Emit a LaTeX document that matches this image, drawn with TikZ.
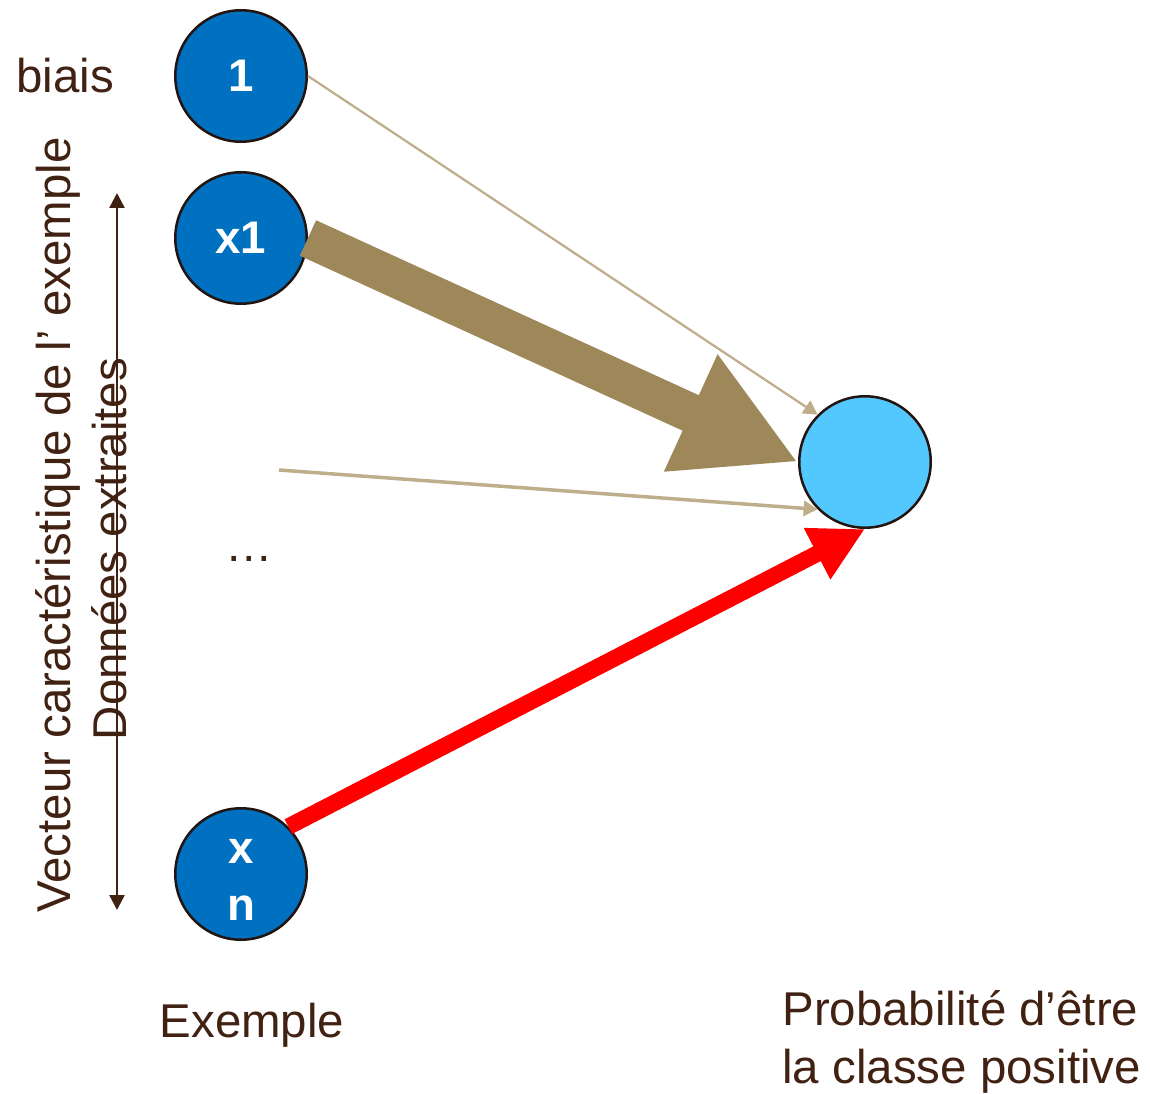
\documentclass[tikz,border=0pt]{standalone}
\usepackage{fontspec}
\setmainfont{Liberation Sans}
\usetikzlibrary{arrows.meta}
\definecolor{mblue}{RGB}{0,112,192}
\definecolor{lblue}{RGB}{83,200,255}
\definecolor{dbrown}{RGB}{64,33,18}
\definecolor{rim}{RGB}{35,20,15}
\definecolor{wbrown}{RGB}{158,135,89}
\definecolor{wtan}{RGB}{191,174,140}
\tikzset{unit/.style = {circle, draw = rim, line width = 0.05cm, fill = mblue, minimum size = 2.63cm, inner sep = 0, text = white, font = \fontsize{26}{32.5}\selectfont\bfseries}}
\tikzset{txt/.style = {text = dbrown, inner sep = 0, font = \fontsize{27}{32.5}\selectfont}}
\tikzset{thin weight/.style = {wtan, -{Triangle[length = 0.28cm, width = 0.3cm]}}}

\begin{document}
\begin{tikzpicture}[x = 0.02cm, y = -0.02cm]
    \useasboundingbox (0, 0) rectangle (1150, 1094);

    % inputs and output
    \node [unit] (bias) at (241, 76) {1};
    \node [unit] (x1) at (241, 238) {x1};
    \node [unit, align = center, text height = 1.86cm] (xn) at (241, 874) {x\\n};
    \node [unit, fill = lblue] (out) at (865, 462) {};

    \node [txt, anchor = base] (biais) at (65, 93) {biais};
    \node [txt, anchor = base] (dots) at (249, 562) {…};
    \node [txt, anchor = base] (exemple) at (252, 1037) {Exemple};
    \node [txt, anchor = base west, align = left] (proba) at (782, 1083)
      {Probabilité d’être\\la classe positive};

    \node [txt, rotate = 90, anchor = base] (vecteur) at (71, 525)
      {Vecteur caractéristique de l’ exemple};
    \node [txt, rotate = 90, anchor = base] (donnees) at (126, 549)
      {Données extraites};

    \coordinate (ftop) at (117, 193);
    \coordinate (fbot) at (117, 910);
    \draw [dbrown, line width = 0.05cm,
      {Triangle[length = 0.3cm, width = 0.3cm]}-{Triangle[length = 0.3cm, width = 0.3cm]}]
      (ftop) -- (fbot);

    % weights
    \coordinate (din) at (279, 470);
    \draw [thin weight, line width = 0.045cm] (bias.east) -- (out.135);
    \draw [thin weight, line width = 0.07cm] (din) -- (out.225);
    \draw [wbrown, line width = 0.78cm, -{Triangle[length = 2.36cm, width = 2.4cm]}]
      (x1.east) -- (out.west);
    \draw [red, line width = 0.33cm, -{Triangle[length = 1.08cm, width = 1.08cm]}]
      (xn.45) -- (out.south);
\end{tikzpicture}
\end{document}
